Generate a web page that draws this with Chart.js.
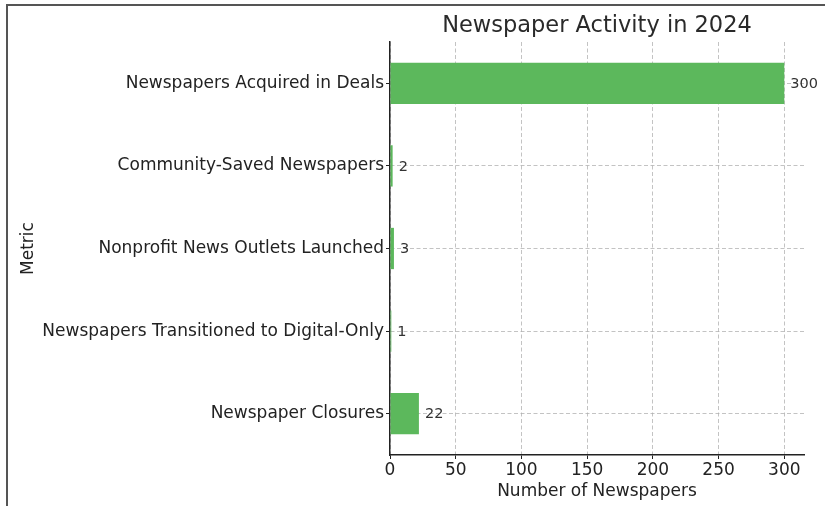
<!DOCTYPE html>
<html>
<head>
<meta charset="utf-8">
<script src="https://cdn.jsdelivr.net/npm/chart.js@4/dist/chart.umd.min.js"></script>
<style>
    html, body { margin: 0; padding: 0; background: #fff; overflow: hidden; }
    #wrap { position: relative; width: 825px; height: 506px; }
    #frame { position: absolute; left: 6px; top: 4px; width: 900px; height: 600px;
             border-left: 2px solid #555; border-top: 2px solid #555; pointer-events: none; }
    canvas { position: absolute; left: 0; top: 0; }
</style>
</head>
<body>
<div id="wrap">
    <canvas id="activityChart" width="825" height="506"></canvas>
    <div id="frame"></div>
</div>
<script>
// Newspaper activity, top to bottom as drawn
const metrics = [
    'Newspapers Acquired in Deals',
    'Community-Saved Newspapers',
    'Nonprofit News Outlets Launched',
    'Newspapers Transitioned to Digital-Only',
    'Newspaper Closures'
];
const counts = [300, 2, 3, 1, 22];
const xTicks = [0, 50, 100, 150, 200, 250, 300];

const FONT = "'DejaVu Sans', sans-serif";
const GRID = 'rgba(175, 175, 175, 0.75)';

// value labels to the right of each bar
const barLabels = {
    id: 'barLabels',
    afterDatasetsDraw(chart) {
        const ctx = chart.ctx;
        const meta = chart.getDatasetMeta(0);
        ctx.save();
        ctx.font = '14.5px ' + FONT;
        ctx.fillStyle = '#333';
        ctx.textAlign = 'left';
        ctx.textBaseline = 'middle';
        meta.data.forEach((bar, i) => {
            ctx.fillText(String(counts[i]), bar.x + 6, bar.y + 1);
        });
        ctx.restore();
    }
};

const ctx = document.getElementById('activityChart').getContext('2d');
new Chart(ctx, {
    type: 'bar',
    data: {
        labels: metrics,
        datasets: [{
            data: counts,
            backgroundColor: '#5cb85c',
            borderWidth: 0,
            barPercentage: 0.5,
            categoryPercentage: 1.0
        }]
    },
    options: {
        indexAxis: 'y',
        responsive: false,
        animation: false,
        layout: { padding: { left: 9, right: 21, top: 0, bottom: 0 } },
        plugins: {
            legend: { display: false },
            tooltip: { enabled: false },
            title: {
                display: true,
                fullSize: false,
                text: 'Newspaper Activity in 2024',
                color: '#2a2a2a',
                font: { family: FONT, size: 22.5, weight: 'normal', lineHeight: 1.2 },
                padding: { top: 13, bottom: 2 }
            }
        },
        scales: {
            x: {
                type: 'linear',
                min: 0,
                max: 315,
                afterBuildTicks: function(scale) {
                    scale.ticks = xTicks.map(v => ({ value: v }));
                },
                afterFit: function(scale) { scale.height = 51; },
                grid: {
                    color: GRID,
                    lineWidth: 1,
                    drawTicks: true,
                    tickLength: 4,
                    tickColor: '#222',
                    tickBorderDash: []
                },
                border: { display: true, color: '#222', width: 1.5, dash: [4, 2.5] },
                ticks: {
                    color: '#222',
                    font: { family: FONT, size: 17 },
                    padding: 1,
                    maxRotation: 0
                },
                title: {
                    display: true,
                    text: 'Number of Newspapers',
                    color: '#222',
                    font: { family: FONT, size: 17 },
                    padding: { top: 0, bottom: 4 }
                }
            },
            y: {
                z: 1,
                afterFit: function(scale) { scale.width = 381; },
                grid: {
                    offset: false,
                    color: GRID,
                    lineWidth: 1,
                    drawTicks: true,
                    tickLength: 4,
                    tickColor: '#222',
                    tickBorderDash: []
                },
                border: { display: true, color: '#222', width: 1.5, dash: [4, 2.5] },
                ticks: {
                    color: '#222',
                    font: { family: FONT, size: 17 },
                    padding: 2
                },
                title: {
                    display: true,
                    text: 'Metric',
                    color: '#222',
                    font: { family: FONT, size: 17 },
                    padding: { top: 9, bottom: 0 }
                }
            }
        }
    },
    plugins: [barLabels]
});
</script>
</body>
</html>
